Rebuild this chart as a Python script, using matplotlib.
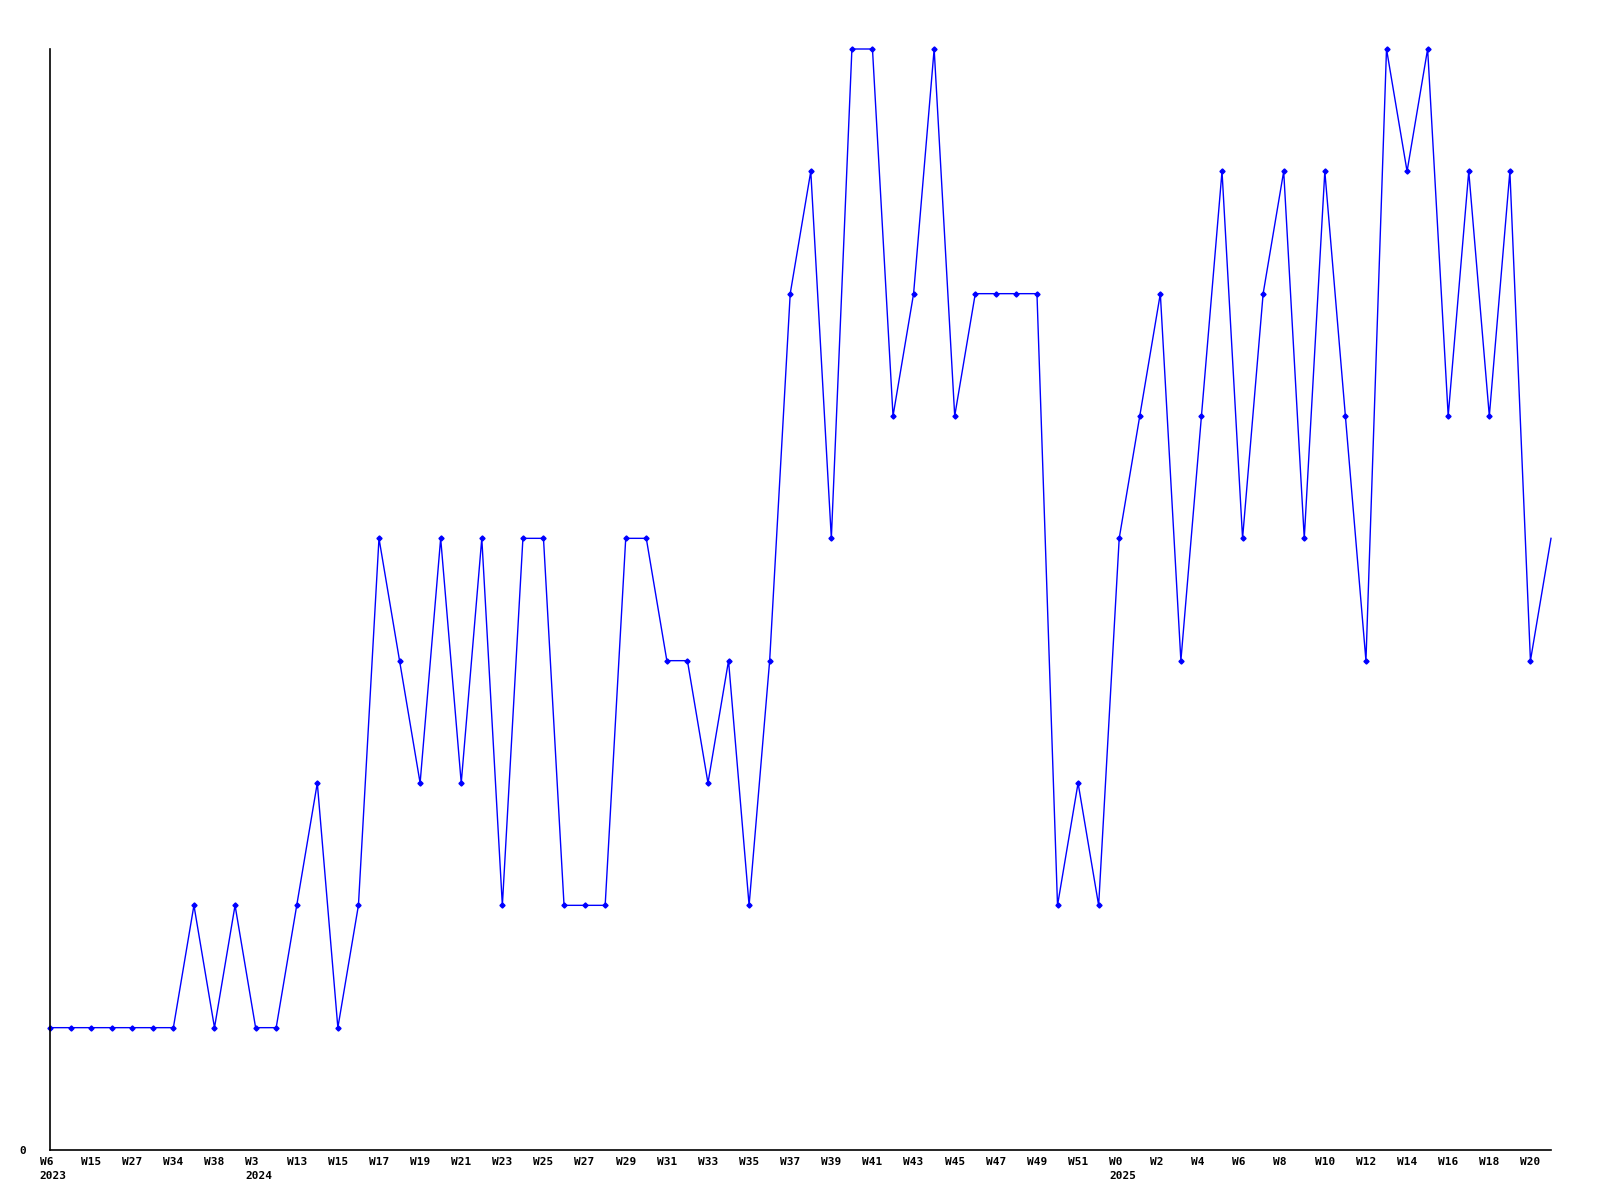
import matplotlib
matplotlib.use('Agg')
import matplotlib.pyplot as plt
import matplotlib.transforms as mtransforms
import numpy as np

# values per week (one point each)
values = [1, 1, 1, 1, 1, 1, 1, 2, 1, 2,
          1, 1, 2, 3, 1, 2, 5, 4, 3, 5,
          3, 5, 2, 5, 5, 2, 2, 2, 5, 5,
          4, 4, 3, 4, 2, 4, 7, 8, 5, 9,
          9, 6, 7, 9, 6, 7, 7, 7, 7, 2,
          3, 2, 5, 6, 7, 4, 6, 8, 5, 7,
          8, 5, 8, 6, 4, 9, 8, 9, 6, 8,
          6, 8, 4, 5]

# labels shown on every second point
week_labels = ['W6', 'W15', 'W27', 'W34', 'W38', 'W3', 'W13', 'W15', 'W17', 'W19',
               'W21', 'W23', 'W25', 'W27', 'W29', 'W31', 'W33', 'W35', 'W37', 'W39',
               'W41', 'W43', 'W45', 'W47', 'W49', 'W51', 'W0', 'W2', 'W4', 'W6',
               'W8', 'W10', 'W12', 'W14', 'W16', 'W18', 'W20']
year_labels = {0: '2023', 5: '2024', 26: '2025'}

x = np.arange(len(values))

fig = plt.figure(figsize=(16, 12), dpi=100)
ax = fig.add_axes([50 / 1600, 1 - 1150 / 1200, 1501 / 1600, 1101 / 1200])

# line and markers (last point has no marker, it sits on the right edge)
ax.plot(x, values, color='#0000ff', linewidth=1.0, marker='D', markersize=2.6,
        markevery=list(range(len(values) - 1)), clip_on=False)

ax.set_xlim(0, len(values) - 1)
ax.set_ylim(0, 9)

for s in ['top', 'right']:
    ax.spines[s].set_visible(False)
for s in ['left', 'bottom']:
    ax.spines[s].set_linewidth(1.2)
    ax.spines[s].set_color('black')

ax.set_xticks([])
ax.set_yticks([0])
ax.set_yticklabels(['0'], fontfamily='DejaVu Sans Mono', fontweight='bold', fontsize=8)
ax.tick_params(axis='y', length=0, pad=17)

font = dict(fontfamily='DejaVu Sans Mono', fontweight='bold', fontsize=8)
trans = ax.get_xaxis_transform() + mtransforms.ScaledTranslation(-10.2 / 100, 0, fig.dpi_scale_trans)
for i, lab in enumerate(week_labels):
    txt = lab
    if i in year_labels:
        txt = lab + '\n' + year_labels[i]
    ax.text(x[i * 2], -0.0065, txt, transform=trans, ha='left', va='top',
            linespacing=1.5, **font)

fig.savefig('out.png', dpi=100)
